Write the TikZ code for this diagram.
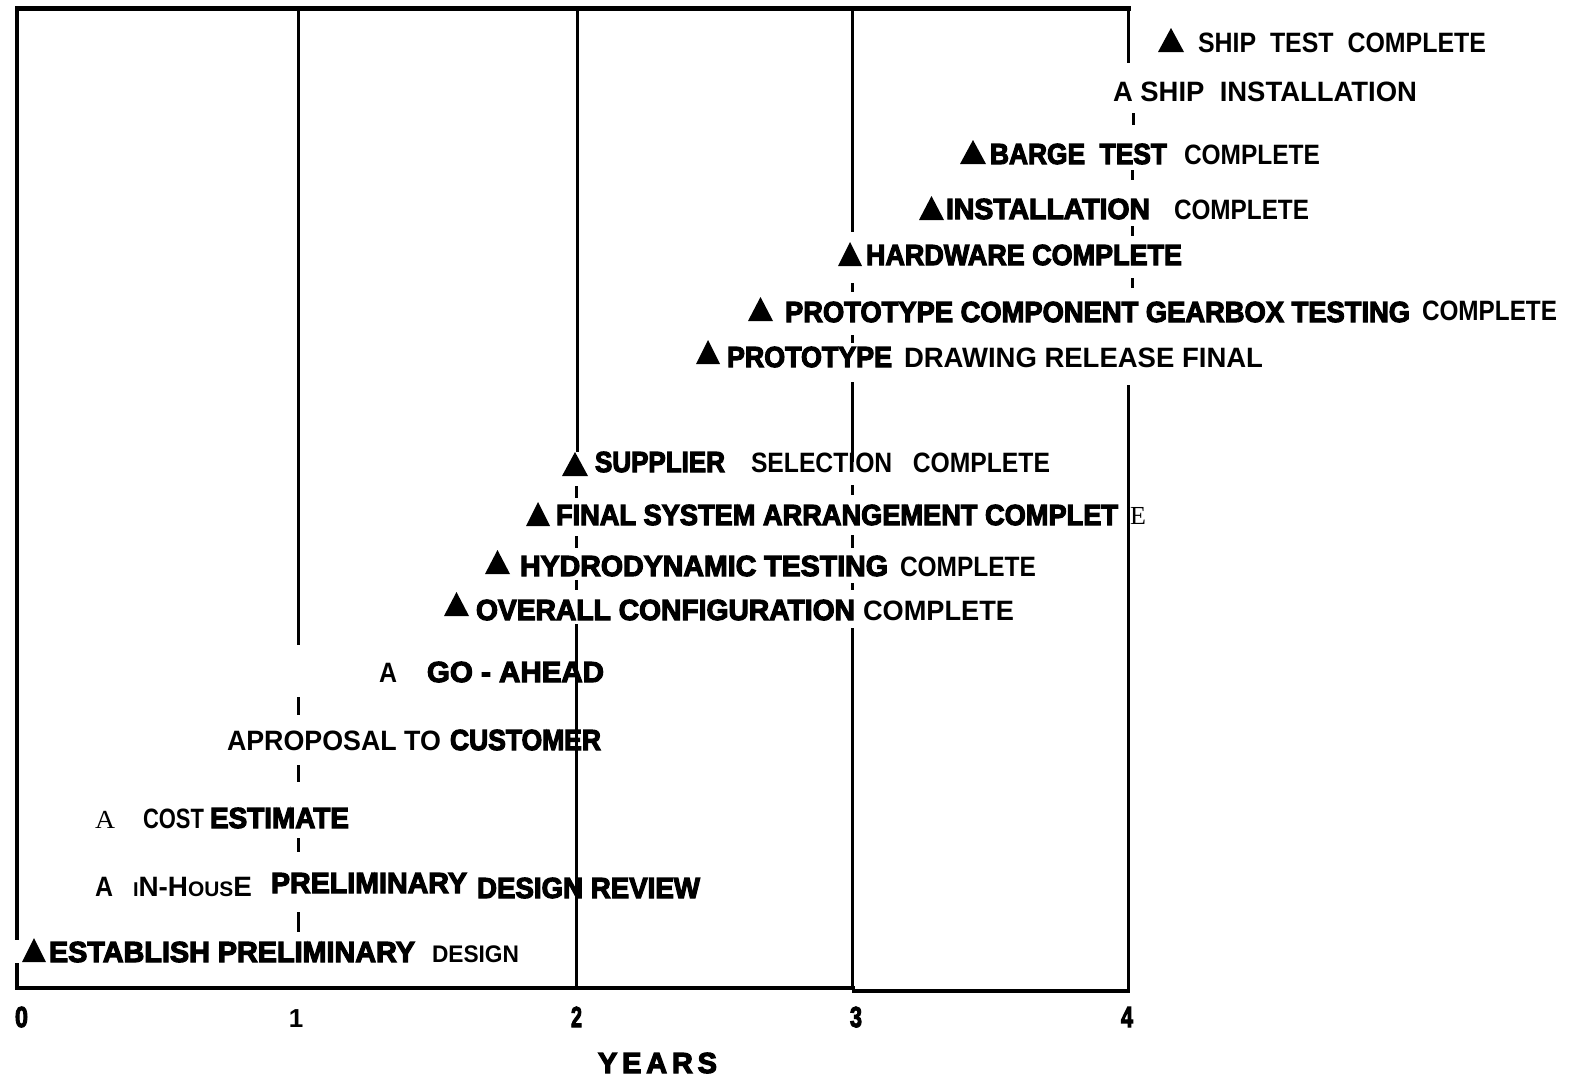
\documentclass[tikz,border=0pt]{standalone}
\usepackage{fontspec}
\usepackage{graphicx}
\setmainfont{Liberation Sans}
\newfontfamily\medfam{Liberation Sans Bold}
\newfontfamily\hvyfam{Liberation Sans Bold}[FakeBold=4]
\newfontfamily\srffam{Liberation Serif}
\newcommand\lt{\medfam\fontsize{28}{30}\selectfont}
\newcommand\hv{\hvyfam\fontsize{29}{30}\selectfont}
\newcommand\sr{\srffam\fontsize{26}{28}\selectfont}
\tikzset{
  txt/.style={anchor=base west, inner sep=0pt, outer sep=0pt},
  gridline/.style={line width=3pt, black},
  frameline/.style={line width=5pt, black},
  axisline/.style={line width=4pt, black}
}
\newcommand\seg[6]{\node[txt] (#1) at (#2,#4) {\resizebox{\dimexpr #3pt-#2pt\relax}{\height}{#5#6}};}
\newcommand\tri[3]{\fill ({#1},{#3}) -- ({#2},{#3}) -- ({(#1+#2)/2},{#3-24}) -- cycle;}
\begin{document}
\begin{tikzpicture}[x=1pt,y=-1pt]
\useasboundingbox (0,0) rectangle (1569,1079);
% frame
\draw[frameline] (15,8) -- (1131,8);
\draw[axisline] (15,988) -- (855,988);
\draw[axisline] (852,991) -- (1130,991);
% year 0
\draw[line width=4pt] (17,6) -- (17,940);
\draw[line width=4pt] (17,963) -- (17,990);
% year 1
\draw[gridline] (298,6) -- (298,645);
\draw[gridline] (298,697) -- (298,715);
\draw[gridline] (298,765) -- (298,782);
\draw[gridline] (298,838) -- (298,852);
\draw[gridline] (298,912) -- (298,932);
% year 2
\draw[gridline] (577,6) -- (577,452);
\draw[gridline] (576,486) -- (576,498);
\draw[gridline] (576,536) -- (576,548);
\draw[gridline] (576,580) -- (576,590);
\draw[gridline] (576,624) -- (576,990);
% year 3
\draw[gridline] (852,6) -- (852,232);
\draw[gridline] (852,283) -- (852,292);
\draw[gridline] (852,335) -- (852,343);
\draw[gridline] (852,382) -- (852,462);
\draw[gridline] (852,485) -- (852,495);
\draw[gridline] (852,535) -- (852,548);
\draw[gridline] (852,583) -- (852,590);
\draw[gridline] (852,628) -- (852,990);
% year 4
\draw[gridline] (1128,6) -- (1128,63);
\draw[gridline] (1133,113) -- (1133,125);
\draw[gridline] (1132,170) -- (1132,180);
\draw[gridline] (1132,226) -- (1132,236);
\draw[gridline] (1132,278) -- (1132,288);
\draw[gridline] (1128,385) -- (1128,993);
% milestones
\tri{1158}{1184}{52}
\seg{r1}{1198}{1486}{52}{\lt}{SHIP\ \ TEST\ \ COMPLETE}
\seg{r2}{1113}{1417}{101}{\lt}{A\ SHIP\ \ INSTALLATION}
\tri{960}{986}{164}
\seg{r3a}{990}{1167}{164}{\hv}{BARGE\ \ TEST}
\seg{r3b}{1184}{1320}{164}{\lt}{COMPLETE}
\tri{919}{944}{220}
\seg{r4a}{946}{1150}{219}{\hv}{INSTALLATION}
\seg{r4b}{1174}{1309}{219}{\lt}{COMPLETE}
\tri{838}{862}{266}
\seg{r5}{866}{1182}{265}{\hv}{HARDWARE COMPLETE}
\tri{748}{773}{321}
\seg{r6a}{785}{1410}{322}{\hv}{PROTOTYPE COMPONENT GEARBOX TESTING}
\seg{r6b}{1422}{1557}{320}{\lt}{COMPLETE}
\tri{696}{720}{364}
\seg{r7a}{727}{892}{367}{\hv}{PROTOTYPE}
\seg{r7b}{904}{1263}{367}{\lt}{DRAWING RELEASE FINAL}
\tri{562}{588}{476}
\seg{r8a}{595}{725}{472}{\hv}{SUPPLIER}
\seg{r8b}{751}{1050}{472}{\lt}{SELECTION\ \ \ COMPLETE}
\tri{526}{550}{526}
\seg{r9a}{556}{1118}{525}{\hv}{FINAL SYSTEM ARRANGEMENT COMPLET}
\node[txt] (r9b) at (1130,524) {\srffam\fontsize{26}{28}\selectfont E};
\tri{485}{510}{574}
\seg{r10a}{520}{888}{576}{\hv}{HYDRODYNAMIC TESTING}
\seg{r10b}{900}{1036}{576}{\lt}{COMPLETE}
\tri{444}{469}{616}
\seg{r11a}{476}{855}{620}{\hv}{OVERALL CONFIGURATION}
\seg{r11b}{863}{1014}{620}{\lt}{COMPLETE}
\seg{r12a}{379}{397}{682}{\lt}{A}
\seg{r12b}{427}{604}{682}{\hv}{GO - AHEAD}
\seg{r13a}{227}{441}{750}{\lt}{APROPOSAL TO}
\seg{r13b}{450}{601}{750}{\hv}{CUSTOMER}
\seg{r14a}{95}{115}{828}{\sr}{A}
\seg{r14b}{143}{204}{828}{\lt}{COST}
\seg{r14c}{210}{349}{828}{\hv}{ESTIMATE}
\seg{r15a}{95}{113}{896}{\lt}{A}
\seg{r15b}{133}{252}{896}{\lt}{{\fontsize{20}{22}\selectfont I}N-H{\fontsize{21}{22}\selectfont OUS}E}
\seg{r15c}{271}{467}{893}{\hv}{PRELIMINARY}
\seg{r15d}{477}{700}{898}{\hv}{DESIGN REVIEW}
\tri{22}{46}{962}
\seg{r16a}{49}{415}{962}{\hv}{ESTABLISH PRELIMINARY}
\seg{r16b}{432}{519}{962}{\medfam\fontsize{24}{26}\selectfont}{DESIGN}
% axis labels
\seg{y0}{15}{28}{1027}{\hv}{0}
\node[inner sep=0pt, anchor=base] (y1) at (296,1027) {\medfam\fontsize{26}{28}\selectfont 1};
\seg{y2}{571}{582}{1027}{\hv}{2}
\seg{y3}{850}{862}{1027}{\hv}{3}
\seg{y4}{1121}{1133}{1027}{\hv}{4}
\seg{yrs}{598}{717}{1073}{\hv}{Y\,E\,A\,R\,S}
\end{tikzpicture}
\end{document}
